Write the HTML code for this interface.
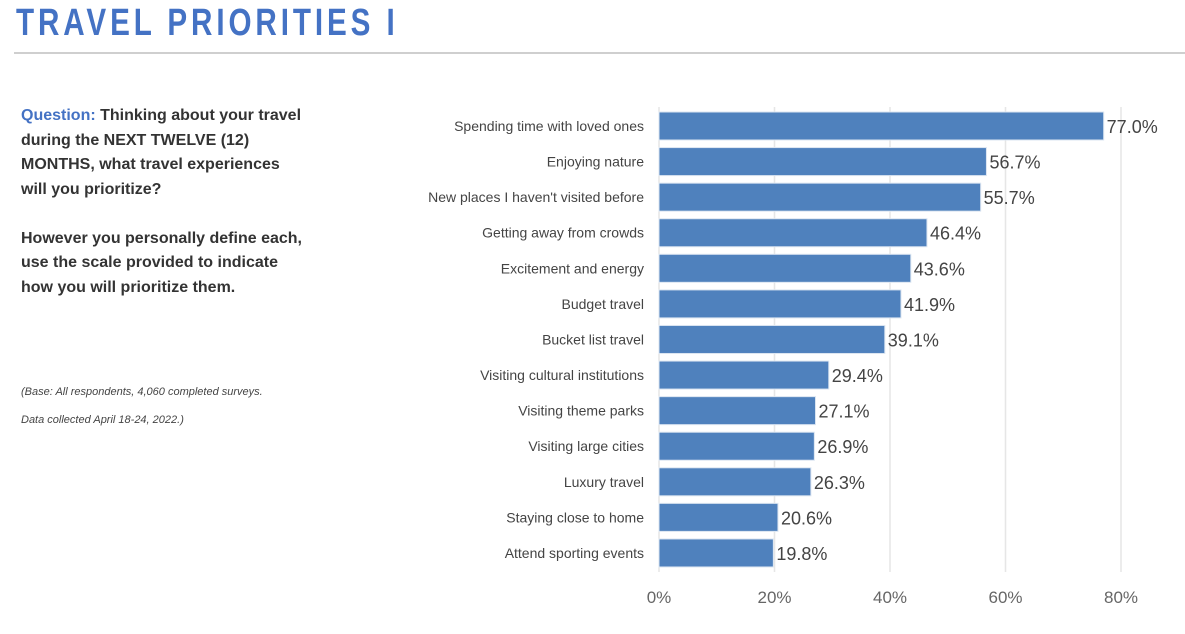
<!DOCTYPE html>
<html><head><meta charset="utf-8"><style>
body{margin:0;width:1185px;height:634px;background:#fff;font-family:"Liberation Sans",sans-serif;position:relative;overflow:hidden}
#title{position:absolute;left:16px;top:2px;font-size:38px;font-weight:bold;color:#4472c4;letter-spacing:5px;transform:scaleX(0.78);transform-origin:left top;white-space:nowrap}
#rule{position:absolute;left:14px;top:52px;width:1171px;height:2px;background:#cfcfcf}
#q{position:absolute;left:21px;top:104px;font-size:16px;font-weight:bold;color:#333;line-height:24.5px}
#q .b{color:#4472c4}
.foot{position:absolute;left:21px;font-size:11px;font-style:italic;color:#444}
</style></head><body>
<div id="title">TRAVEL PRIORITIES I</div>
<div id="rule"></div>
<div id="q"><span class="b">Question:</span> Thinking about your travel<br>during the NEXT TWELVE (12)<br>MONTHS, what travel experiences<br>will you prioritize?<br><br>However you personally define each,<br>use the scale provided to indicate<br>how you will prioritize them.</div>
<div class="foot" style="top:386px">(Base: All respondents, 4,060 completed surveys.</div>
<div class="foot" style="top:414px">Data collected April 18-24, 2022.)</div>
<svg id="chart" width="1185" height="634" style="position:absolute;left:0;top:0"></svg>
<script>
const categories=["Spending time with loved ones","Enjoying nature","New places I haven't visited before","Getting away from crowds","Excitement and energy","Budget travel","Bucket list travel","Visiting cultural institutions","Visiting theme parks","Visiting large cities","Luxury travel","Staying close to home","Attend sporting events"];
const values=[77.0,56.7,55.7,46.4,43.6,41.9,39.1,29.4,27.1,26.9,26.3,20.6,19.8];
const ticks=[0,20,40,60,80];
const tickLabels=["0%","20%","40%","60%","80%"];
const svg=document.getElementById('chart');const NS="http://www.w3.org/2000/svg";
const x0=659,pxPer=5.775,y0=126,step=35.58,bh=28;
const xs=v=>x0+v*pxPer, ys=i=>y0+i*step;
function mk(t,a){const e=document.createElementNS(NS,t);for(const k in a)e.setAttribute(k,a[k]);svg.appendChild(e);return e;}
ticks.forEach((t,i)=>{
 if(t>0){const g=mk('line',{x1:xs(t),x2:xs(t),y1:107,y2:572,stroke:'#e6e6e6','stroke-width':1.5});
 
 }
 const l=mk('text',{x:xs(t),y:603,'text-anchor':'middle','font-size':17,fill:'#666','font-family':'Liberation Sans, sans-serif'});
 l.textContent=tickLabels[i];
 
 
});
const ax=mk('line',{x1:x0,x2:x0,y1:107,y2:572,stroke:'#d9d9d9','stroke-width':1});


categories.forEach((c,i)=>{
 const cy=ys(i);
 const r=mk('rect',{x:x0,y:cy-bh/2,width:xs(values[i])-x0,height:bh,fill:'#4f81bd',stroke:'#dbe5f1','stroke-width':1});
 
 
 const cl=mk('text',{x:644,y:cy+5,'text-anchor':'end','font-size':14,fill:'#444','font-family':'Liberation Sans, sans-serif'});
 cl.textContent=c;
 
 
 const vl=mk('text',{x:xs(values[i])+3,y:cy+7,'font-size':18,fill:'#444','font-family':'Liberation Sans, sans-serif'});
 vl.textContent=values[i].toFixed(1)+'%';
 
 
});
</script>
</body></html>
